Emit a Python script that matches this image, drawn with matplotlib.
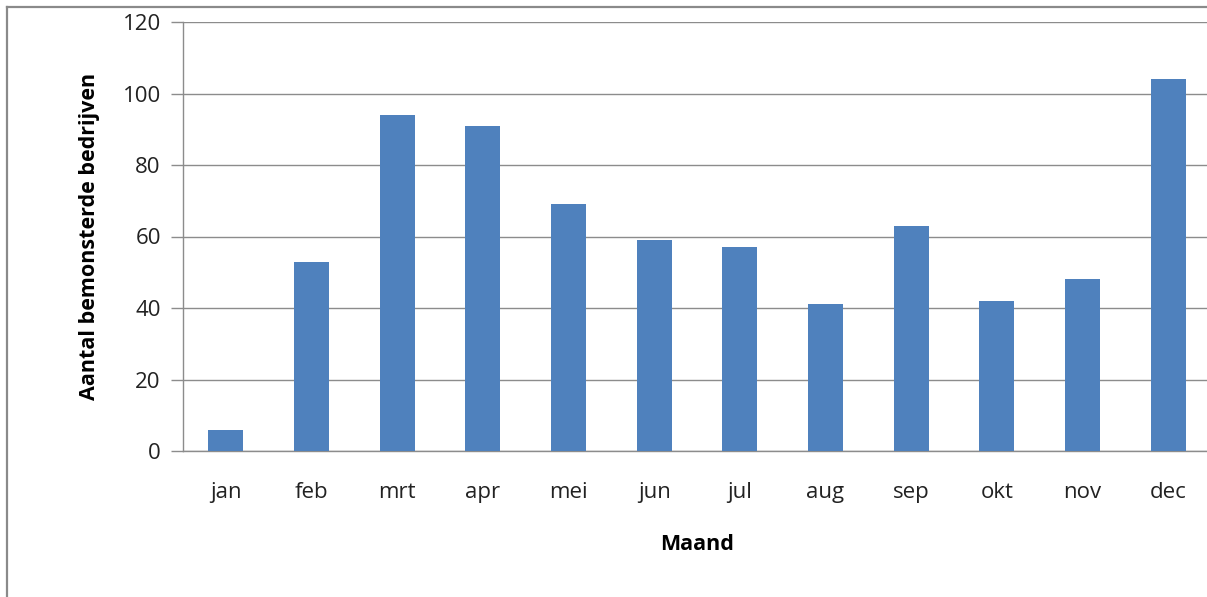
import matplotlib.pyplot as plt
from matplotlib.lines import Line2D
import numpy as np

maanden = ['jan', 'feb', 'mrt', 'apr', 'mei', 'jun', 'jul', 'aug', 'sep', 'okt', 'nov', 'dec']
aantallen = [6, 53, 94, 91, 69, 59, 57, 41, 63, 42, 48, 104]
y_ticks = [0, 20, 40, 60, 80, 100, 120]

plt.rcParams['font.family'] = ['Open Sans', 'DejaVu Sans']

W, H = 1207, 597
fig = plt.figure(figsize=(W / 100, H / 100), dpi=100)
ax = fig.add_axes([183 / W, (H - 451) / H, 1028 / W, 429 / H])

x = np.arange(len(maanden))
ax.bar(x, aantallen, width=0.41, color='#4F81BD', zorder=3)

ax.set_xlim(-0.5, len(maanden) - 0.5)
ax.set_ylim(0, 120)
ax.set_yticks(y_ticks)
ax.set_xticks(x)
ax.set_xticklabels(maanden)
ax.grid(axis='y', color='#8c8c8c', linewidth=1, zorder=0)

for s in ['top', 'right']:
    ax.spines[s].set_visible(False)
for s in ['left', 'bottom']:
    ax.spines[s].set_color('#8c8c8c')
    ax.spines[s].set_linewidth(1)

ax.tick_params(axis='y', length=9, width=1, color='#8c8c8c', labelsize=16,
               labelcolor='#222222', pad=7)
ax.tick_params(axis='x', length=0, labelsize=16, labelcolor='#222222', pad=22)

ax.set_ylabel('Aantal bemonsterde bedrijven', fontsize=15.5, fontweight='bold', labelpad=16)
ax.set_xlabel('Maand', fontsize=15.5, fontweight='bold', labelpad=23)

# outer frame (left and top)
fig.add_artist(Line2D([7 / W, 7 / W], [0, 1 - 7 / H], transform=fig.transFigure,
                      color='#8a8a8a', linewidth=1.6))
fig.add_artist(Line2D([7 / W, 1], [1 - 7 / H, 1 - 7 / H], transform=fig.transFigure,
                      color='#8a8a8a', linewidth=1.6))

fig.savefig('out.png', dpi=100)
